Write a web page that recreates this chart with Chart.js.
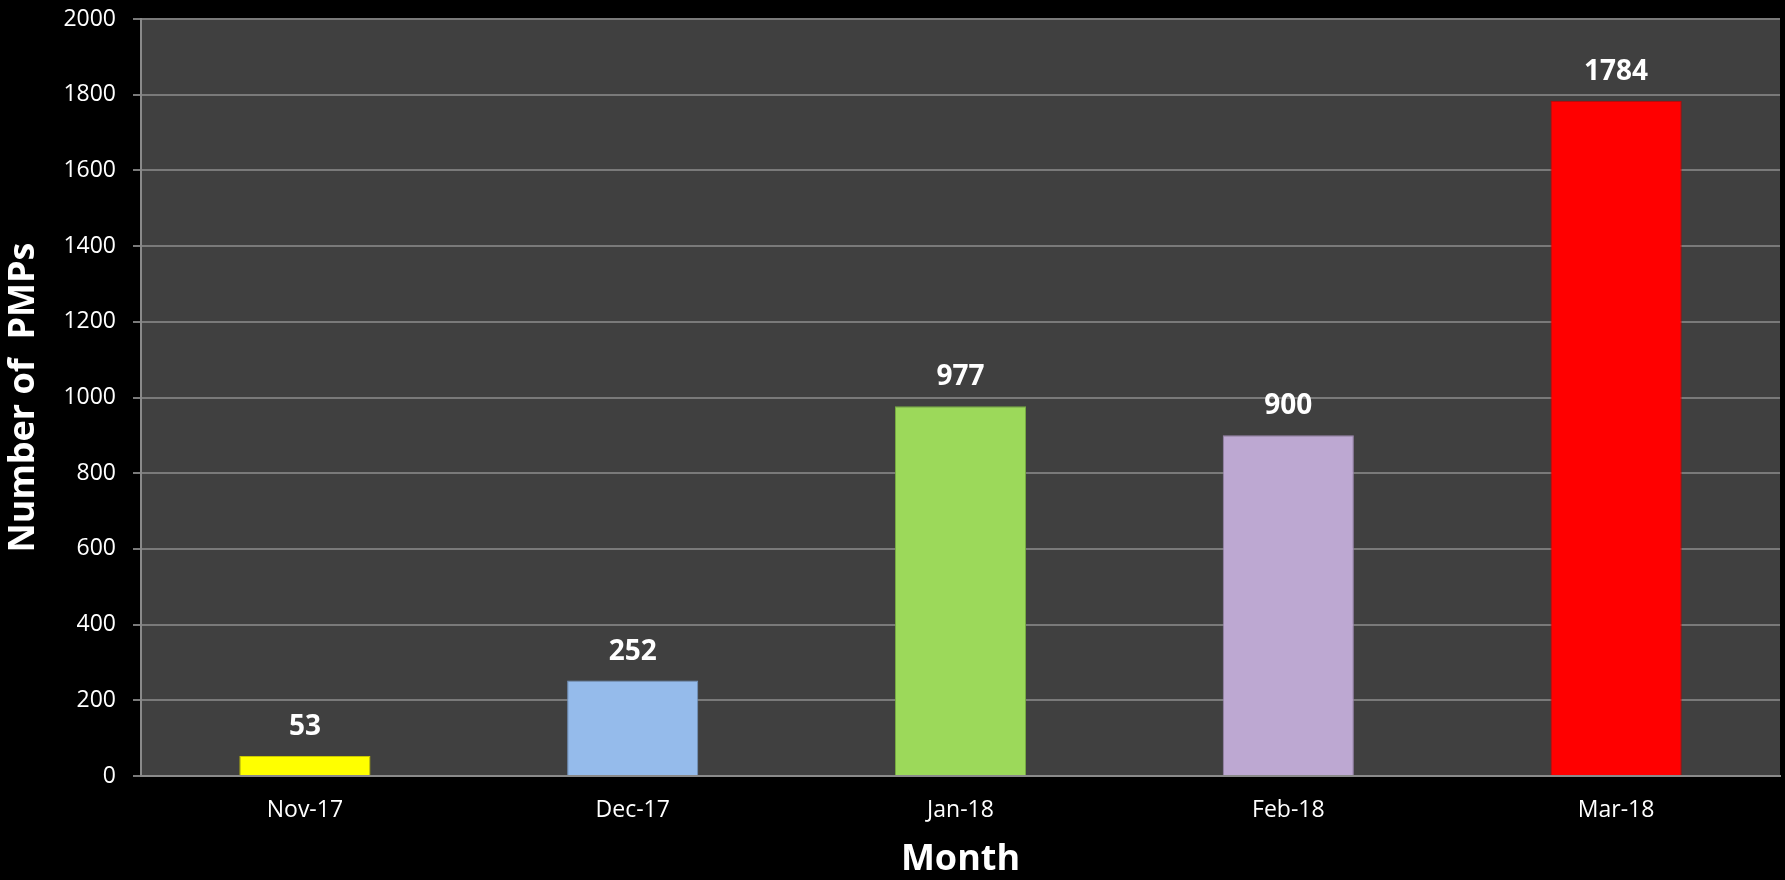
<!DOCTYPE html>
<html>
<head>
<meta charset="utf-8">
<script src="https://cdn.jsdelivr.net/npm/chart.js@4/dist/chart.umd.min.js"></script>
<style>
  body { margin: 0; background: #000; }
  #wrap { width: 1785px; height: 880px; position: relative; }
</style>
</head>
<body>
<div id="wrap"><canvas id="chart"></canvas></div>
<script>
const months = ['Nov-17', 'Dec-17', 'Jan-18', 'Feb-18', 'Mar-18'];
const pmpCounts = [53, 252, 977, 900, 1784];
const barColors = ['#FFFF00', '#95BBEB', '#9CD95A', '#BDA8D2', '#FF0000'];
const barEdges = ['#C8C800', '#7496C0', '#78AD42', '#9A86AD', '#C00000'];
const yTicks = [0, 200, 400, 600, 800, 1000, 1200, 1400, 1600, 1800, 2000];

const FONT = "'Open Sans', sans-serif";

// grey plot area behind the bars
const plotBg = {
  id: 'plotBg',
  beforeDraw(chart) {
    const { ctx, chartArea: a } = chart;
    ctx.save();
    ctx.fillStyle = '#404040';
    ctx.fillRect(a.left, a.top, a.right - a.left, a.bottom - a.top);
    ctx.restore();
  }
};

// value above each bar
const valueLabels = {
  id: 'valueLabels',
  afterDatasetsDraw(chart) {
    const ctx = chart.ctx;
    const meta = chart.getDatasetMeta(0);
    ctx.save();
    ctx.fillStyle = '#ffffff';
    ctx.font = 'bold 28px ' + FONT;
    ctx.textAlign = 'center';
    ctx.textBaseline = 'bottom';
    meta.data.forEach((bar, i) => {
      ctx.fillText(String(pmpCounts[i]), bar.x, bar.y - 15);
    });
    ctx.restore();
  }
};

const ctx = document.getElementById('chart').getContext('2d');
new Chart(ctx, {
  type: 'bar',
  data: {
    labels: months,
    datasets: [{
      data: pmpCounts,
      backgroundColor: barColors,
      borderColor: barEdges,
      borderWidth: 1,
      barPercentage: 0.4,
      categoryPercentage: 1
    }]
  },
  options: {
    responsive: true,
    maintainAspectRatio: false,
    animation: false,
    layout: { padding: { left: 0, top: 19, right: 5, bottom: 0 } },
    plugins: {
      legend: { display: false },
      tooltip: { enabled: false }
    },
    scales: {
      x: {
        grid: { display: false, drawTicks: false },
        border: { display: true, color: '#8a8a8a', width: 2 },
        ticks: { color: '#ffffff', font: { family: FONT, size: 23 }, padding: 21 },
        title: {
          display: true, text: 'Month', color: '#ffffff',
          font: { family: FONT, size: 36, weight: 'bold', lineHeight: 1.1 },
          padding: { top: 0, bottom: 0 }
        },
        afterFit(scale) { scale.height = 104; }
      },
      y: {
        min: 0,
        max: 2000,
        afterBuildTicks(scale) { scale.ticks = yTicks.map(v => ({ value: v })); },
        grid: { color: '#7a7a7a', lineWidth: 2, tickLength: 8 },
        border: { display: true, color: '#8a8a8a', width: 2 },
        ticks: {
          color: '#ffffff', font: { family: FONT, size: 23 }, padding: 17,
          callback: v => String(v)
        },
        title: {
          display: true, text: 'Number of  PMPs', color: '#ffffff',
          font: { family: FONT, size: 36, weight: 'bold' }, padding: { top: 2, bottom: 0 }
        },
        afterFit(scale) {
          scale.width = 141;
          scale.paddingTop = 0;     // let layout padding decide the plot top
          scale.paddingBottom = 0;
        }
      }
    }
  },
  plugins: [plotBg, valueLabels]
});
</script>
</body>
</html>
